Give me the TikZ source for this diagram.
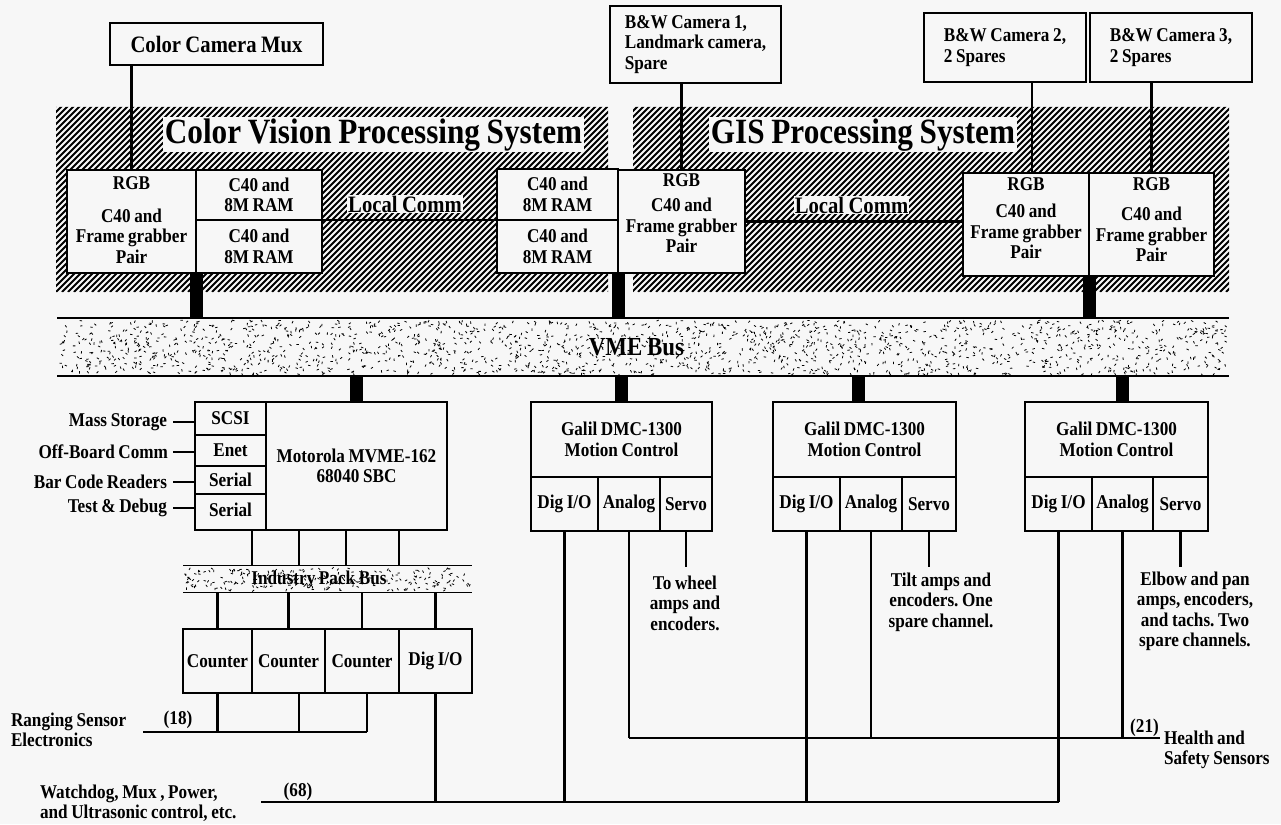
\documentclass[tikz,border=0pt]{standalone}
\usepackage{fontspec}
\setmainfont{Liberation Serif}[FakeStretch=0.88,WordSpace=0.85]
\definecolor{bgc}{RGB}{247,247,247}
\newcommand{\fnorm}{\bfseries\fontsize{19.5}{20.5}\selectfont}
\newcommand{\fbig}{\bfseries\fontsize{23.5}{24}\selectfont}
\newcommand{\ftitle}{\bfseries\fontsize{35.5}{36}\selectfont}
\newcommand{\fvme}{\bfseries\fontsize{26}{27}\selectfont}
\begin{document}
\frenchspacing
\begin{tikzpicture}[x=1pt,y=-1pt,
  every node/.style={font=\fnorm, inner sep=0pt, outer sep=0pt},
  box/.style={draw, line width=2.6pt, fill=bgc, align=center},
  wire/.style={line width=2.2pt},
  thinwire/.style={line width=2pt},
  bar/.style={line width=13pt},
  txt/.style={align=center},
  ltxt/.style={align=left},
  hatchline/.style={line width=1.9pt},
  speck/.style={line width=0.8pt},
  title/.style={font=\ftitle, fill=bgc, inner sep=1.5pt},
  ]
\fill[bgc] (0,0) rectangle (1281,824);
\useasboundingbox (0,0) rectangle (1281,824);

% hatched processing regions
\begin{scope}
\clip (56,107) rectangle (608,292) (633,107) rectangle (1229,292);
\foreach \k in {-130,-124,...,1229} \draw[hatchline] (\k,292) -- ++(186,-186);
\end{scope}
\node[title, anchor=base] (cvps) at (373.5,143) {Color Vision Processing System};
\node[title, anchor=base] (gisps) at (863,143) {GIS Processing System};

% cameras
\node[box, font=\fbig, minimum width=213pt, minimum height=42pt] (cammux) at (216.5,44) {Color Camera Mux};
\node[box, minimum width=171pt, minimum height=77pt, align=left] (bw1) at (695.5,44.5) {B\&W Camera 1,\\Landmark camera,\\Spare};
\node[box, minimum width=162pt, minimum height=69pt, align=left] (bw2) at (1005,47.5) {B\&W Camera 2,\\2 Spares};
\node[box, minimum width=162pt, minimum height=69pt, align=left] (bw3) at (1171,47.5) {B\&W Camera 3,\\2 Spares};

% processor boards
\node[box, minimum width=129pt, minimum height=103pt] (rgb1) at (131.5,221.5) {};
\node[txt] (rgb1t) at (131.5,220) {RGB\\[12.5pt]C40 and\\Frame grabber\\Pair};
\node[box, minimum width=126pt, minimum height=50pt] (c40au) at (259,195) {C40 and\\8M RAM};
\node[box, minimum width=126pt, minimum height=53pt] (c40al) at (259,246.5) {C40 and\\8M RAM};
\node[box, minimum width=121pt, minimum height=51pt] (c40bu) at (557.5,194.5) {C40 and\\8M RAM};
\node[box, minimum width=121pt, minimum height=53pt] (c40bl) at (557.5,246.5) {C40 and\\8M RAM};
\node[box, minimum width=127pt, minimum height=103pt] (rgb2) at (681.5,221.5) {};
\node[txt] (rgb2t) at (681.5,213.5) {RGB\\[4.5pt]C40 and\\Frame grabber\\Pair};
\node[box, minimum width=126pt, minimum height=103pt] (rgb3) at (1026,224.5) {};
\node[txt] (rgb3t) at (1026,218.5) {RGB\\[6.5pt]C40 and\\Frame grabber\\Pair};
\node[box, minimum width=125pt, minimum height=103pt] (rgb4) at (1151.5,224.5) {};
\node[txt] (rgb4t) at (1151.5,220) {RGB\\[9.5pt]C40 and\\Frame grabber\\Pair};

% camera links
\draw[wire] (rgb1.north) -- (rgb1.north |- cammux.south);
\draw[wire] (rgb2.north) -- (rgb2.north |- bw1.south);
\draw[wire] ([xshift=6pt]rgb3.north) -- ([xshift=6pt]rgb3.north |- bw2.south);
\draw[wire] (rgb4.north) -- (rgb4.north |- bw3.south);

% local comm
\draw[wire] (c40au.south east) -- (c40bu.south west);
\node[font=\fbig, fill=bgc, inner sep=1pt, anchor=base] (lc1) at (405,212) {Local Comm};
\draw[wire] (rgb2.east) -- (rgb2.east -| rgb3.west);
\node[font=\fbig, fill=bgc, inner sep=1pt, anchor=base] (lc2) at (851.5,213) {Local Comm};

% VME bus
\node[minimum width=1172pt, minimum height=58pt, fill=gray!6] (vme) at (643,347) {};
\begin{scope}
\pgfmathsetseed{4242}
\foreach \i in {1,...,1700}{
  \pgfmathsetmacro\rx{58+1169*rnd}
  \pgfmathsetmacro\ry{320+54*rnd}
  \pgfmathsetmacro\ra{180*rnd}
  \draw[speck] (\rx,\ry) -- ++(\ra:2.4);
}
\end{scope}
\draw[line width=1.3pt] (vme.north west) -- (vme.north east);
\draw[line width=1.3pt] (vme.south west) -- (vme.south east);
\node[font=\fvme] (vmet) at (636.5,347) {VME Bus};

% Motorola SBC
\node[box, minimum width=181pt, minimum height=128pt] (motmain) at (356.5,466) {Motorola MVME-162\\68040 SBC};
\node[box, minimum width=71pt, minimum height=33pt] (scsi) at (230.5,418.5) {SCSI};
\node[box, minimum width=71pt, minimum height=31pt] (enet) at (230.5,450.5) {Enet};
\node[box, minimum width=71pt, minimum height=28pt] (ser1) at (230.5,480) {Serial};
\node[box, minimum width=71pt, minimum height=36pt] (ser2) at (230.5,512) {\raisebox{4pt}{Serial}};
\node[anchor=east] (lms) at (167,422) {Mass Storage};
\node[anchor=east] (lob) at (168,452) {Off-Board Comm};
\node[anchor=east] (lbc) at (167,482) {Bar Code Readers};
\node[anchor=east] (ltd) at (167,508) {Test \& Debug};
\draw[thinwire] ([xshift=6pt]lms.east) -- (lms.east -| scsi.west);
\draw[thinwire] ([xshift=5pt]lob.east) -- (lob.east -| enet.west);
\draw[thinwire] ([xshift=6pt]lbc.east) -- (lbc.east -| ser1.west);
\draw[thinwire] ([xshift=6pt]ltd.east) -- (ltd.east -| ser2.west);

% Industry Pack bus
\node[minimum width=289pt, minimum height=27pt, fill=gray!6] (ipbus) at (327.5,578.5) {};
\begin{scope}
\pgfmathsetseed{777}
\foreach \i in {1,...,230}{
  \pgfmathsetmacro\rx{184+287*rnd}
  \pgfmathsetmacro\ry{567+23*rnd}
  \pgfmathsetmacro\ra{180*rnd}
  \draw[speck] (\rx,\ry) -- ++(\ra:2.4);
}
\end{scope}
\draw[line width=1pt] (ipbus.north west) -- (ipbus.north east);
\draw[line width=1pt] (ipbus.south west) -- (ipbus.south east);
\node (ipt) at (319,580) {Industry Pack Bus};
\foreach \x [count=\n] in {252,299,346,399} {
  \coordinate (mx\n) at (\x,0);
  \draw[wire] (mx\n |- motmain.south) -- (mx\n |- ipbus.north);
}

% IP modules
\node[box, minimum width=69pt, minimum height=64pt] (cnt1) at (217.5,661) {Counter};
\node[box, minimum width=73pt, minimum height=64pt] (cnt2) at (288.5,661) {Counter};
\node[box, minimum width=74pt, minimum height=64pt] (cnt3) at (362,661) {Counter};
\node[box, minimum width=73pt, minimum height=64pt] (cdio) at (435.5,661) {Dig I/O};
\foreach \c in {cnt1,cnt2,cnt3,cdio} \draw[wire] (\c.north) -- (\c.north |- ipbus.south);

% Galil boards
\node[box, minimum width=181pt, minimum height=75pt] (g1) at (621.5,439.5) {Galil DMC-1300\\Motion Control};
\node[box, minimum width=67pt, minimum height=54pt] (g1-dig) at (564.5,504) {Dig I/O};
\node[box, minimum width=62pt, minimum height=54pt] (g1-an) at (629,504) {Analog};
\node[box, minimum width=52pt, minimum height=54pt] (g1-sv) at (686,504) {Servo};
\node[box, minimum width=183pt, minimum height=75pt] (g2) at (864.5,439.5) {Galil DMC-1300\\Motion Control};
\node[box, minimum width=67pt, minimum height=54pt] (g2-dig) at (806.5,504) {Dig I/O};
\node[box, minimum width=62pt, minimum height=54pt] (g2-an) at (871,504) {Analog};
\node[box, minimum width=54pt, minimum height=54pt] (g2-sv) at (929,504) {Servo};
\node[box, minimum width=183pt, minimum height=75pt] (g3) at (1116.5,439.5) {Galil DMC-1300\\Motion Control};
\node[box, minimum width=67pt, minimum height=54pt] (g3-dig) at (1058.5,504) {Dig I/O};
\node[box, minimum width=61pt, minimum height=54pt] (g3-an) at (1122.5,504) {Analog};
\node[box, minimum width=55pt, minimum height=54pt] (g3-sv) at (1180.5,504) {Servo};

% bus taps
\draw[bar] (rgb1.south east) -- (rgb1.south east |- vme.north);
\draw[bar] (rgb2.south west) -- (rgb2.south west |- vme.north);
\draw[bar] (rgb3.south east) -- (rgb3.south east |- vme.north);
\draw[bar] (motmain.north) -- (motmain.north |- vme.south);
\draw[bar] (g1.north) -- (g1.north |- vme.south);
\draw[bar] ([xshift=-6pt]g2.north) -- ([xshift=-6pt]g2.north |- vme.south);
\draw[bar] ([xshift=6pt]g3.north) -- ([xshift=6pt]g3.north |- vme.south);

% ranging sensors
\coordinate (rs) at (143,732);
\coordinate (cx2) at (299,0);
\coordinate (cx3) at (367,0);
\draw[wire] (cnt1.south) -- (cnt1.south |- rs);
\draw[wire] (cx2 |- cnt2.south) -- (cx2 |- rs);
\draw[wire] (cx3 |- cnt3.south) -- (cx3 |- rs);
\draw[wire] (rs) -- (cx3 |- rs);
\node (n18) at (178,720) {(18)};
\node[ltxt, anchor=west] (rng) at (11,730) {Ranging Sensor\\Electronics};

% digital I/O bundle
\coordinate (wd) at (261,802);
\draw[wire] (cdio.south) -- (cdio.south |- wd);
\draw[wire] (wd) -- (g3-dig.south |- wd);
\node (n68) at (298,792) {(68)};
\node[ltxt, anchor=west] (wdt) at (40,803) {Watchdog, Mux , Power,\\and Ultrasonic control, etc.};

% analog bundle
\coordinate (hs) at (1160,738);
\foreach \g in {g1,g2,g3} {
  \draw[wire] (\g-dig.south) -- (\g-dig.south |- wd);
  \draw[wire] (\g-an.south) -- (\g-an.south |- hs);
  \draw[wire] (\g-sv.south) -- ++(0,36);
}
\draw[wire] (g1-an.south |- hs) -- (hs);
\node (n21) at (1144.5,728) {(21)};
\node[ltxt, anchor=west] (hss) at (1164,750) {Health and\\Safety Sensors};

% servo notes
\node[txt] (sv1t) at (685,603) {To wheel\\amps and\\encoders.};
\node[txt] (sv2t) at (941,602) {Tilt amps and\\encoders. One\\spare channel.};
\node[txt] (sv3t) at (1195,611.5) {Elbow and pan\\amps, encoders,\\and tachs. Two\\spare channels.};
\end{tikzpicture}
\end{document}
